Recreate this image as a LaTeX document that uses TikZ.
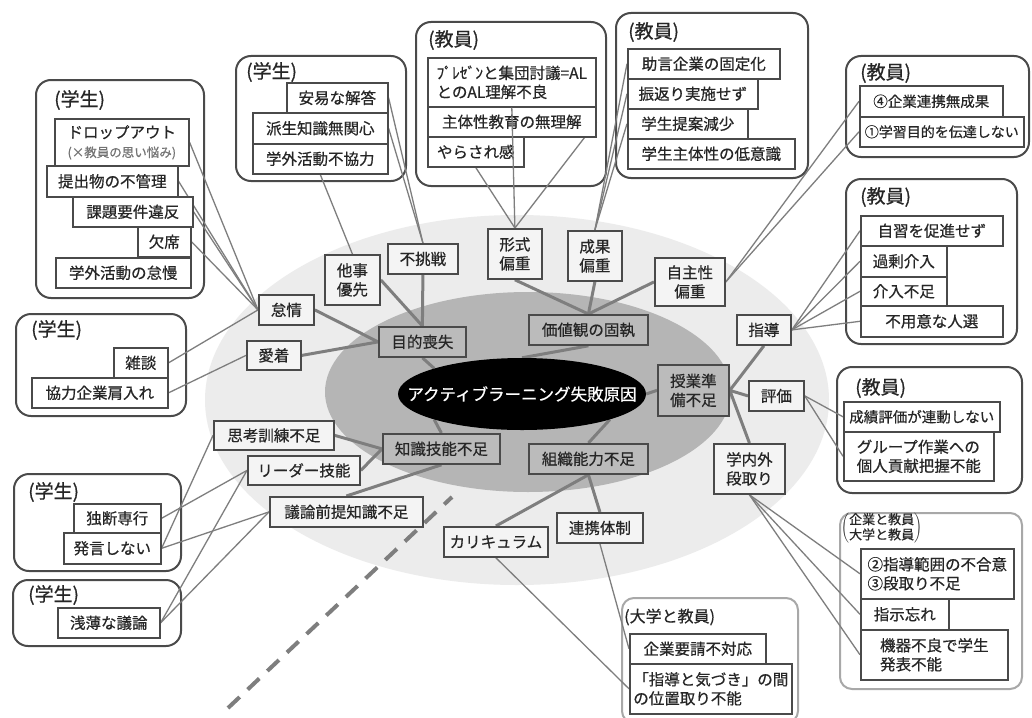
\documentclass[tikz,border=0pt]{standalone}
\usepackage{fontspec}
\setmainfont{Noto Sans CJK JP}[FakeBold=0.6]
\usetikzlibrary{shapes.geometric}
\definecolor{bgl}{HTML}{ECECEC}
\definecolor{bgd}{HTML}{B5B5B5}
\definecolor{bord}{HTML}{4A4A4A}
\definecolor{lin}{HTML}{7E7E7E}
\definecolor{corefill}{HTML}{BBBBBB}
\definecolor{subfill}{HTML}{F4F4F4}
\definecolor{lgrpc}{HTML}{A8A8A8}
\definecolor{txt}{HTML}{262626}
\pgfdeclarelayer{bg}\pgfdeclarelayer{grp}\pgfdeclarelayer{ln}
\pgfsetlayers{bg,grp,ln,main}
\newcommand\mybox[7]{\node[#1, anchor=north west, minimum width=#5pt, minimum height=#6pt] (#2) at (#3,#4) {#7};}
\tikzset{
 every node/.style={font=\fontsize{15.5}{19}\selectfont, text=txt},
 corebox/.style={draw=bord, line width=1.8pt, fill=corefill, align=center, inner sep=2pt},
 subbox/.style={draw=bord, line width=1.8pt, fill=subfill, align=center, inner sep=2pt},
 itembox/.style={draw=bord, line width=1.6pt, fill=white, align=center, inner sep=2pt},
 itemleft/.style={itembox, align=left},
 grpbox/.style={draw=bord, line width=2pt, rounded corners=15pt, fill=white},
 lgrpbox/.style={draw=lgrpc, line width=2pt, rounded corners=12pt, fill=white},
 ttl/.style={font=\fontsize{19}{22}\selectfont, inner sep=0pt, anchor=west},
 thickln/.style={draw=lin, line width=3pt},
 thinln/.style={draw=lin, line width=1.3pt},
 dashline/.style={draw=lin, line width=4pt, dash pattern=on 16pt off 11pt},
}
\begin{document}
\begin{tikzpicture}[x=1pt,y=-1pt]
\useasboundingbox (0,0) rectangle (1032,717);
\begin{pgfonlayer}{bg}
\fill[white] (0,0) rectangle (1032,717);
\fill[bgl] (517,400) ellipse [x radius=312pt, y radius=185pt];
\fill[bgd] (528,392) ellipse [x radius=203pt, y radius=100pt];
\end{pgfonlayer}

% groups
\begin{pgfonlayer}{grp}
\mybox{grpbox}{g1}{35}{79}{168}{218}{}
\mybox{grpbox}{g2}{235}{55}{170}{125}{}
\mybox{grpbox}{g3}{415}{21}{190}{164}{}
\mybox{grpbox}{g4}{615}{12}{192}{165}{}
\mybox{grpbox}{g5}{845}{55}{183}{101}{}
\mybox{grpbox}{g6}{845}{178}{171}{165}{}
\mybox{grpbox}{g7}{836}{366}{185}{126}{}
\mybox{lgrpbox}{g8}{839}{512}{182}{176}{}
\mybox{lgrpbox}{g9}{621}{597}{176}{125}{}
\mybox{grpbox}{g10}{15}{313}{170}{102}{}
\mybox{grpbox}{g11}{13}{473}{167}{97}{}
\mybox{grpbox}{g12}{12}{579}{168}{66}{}
\end{pgfonlayer}

% titles
\node[ttl] (t1) at (54,100) {(学生)};
\node[ttl] (t2) at (246,72) {(学生)};
\node[ttl] (t3) at (428,40) {(教員)};
\node[ttl] (t4) at (628,32) {(教員)};
\node[ttl] (t5) at (860,73) {(教員)};
\node[ttl] (t6) at (860,197) {(教員)};
\node[ttl] (t7) at (855,388) {(教員)};
\node[ttl] (t10) at (31,330) {(学生)};
\node[ttl] (t11) at (28,492) {(学生)};
\node[ttl] (t12) at (28,595) {(学生)};
\node[ttl, font=\fontsize{16}{19}\selectfont] (t9) at (624,617) {(大学と教員)};
\node[anchor=north west, inner sep=0pt] (t8) at (841,513)
 {\(\left(\vcenter{\hbox{\fontsize{13}{14}\selectfont\begin{tabular}{@{}l@{}}企業と教員\\大学と教員\end{tabular}}}\right)\)};

% center
\node[ellipse, fill=black, minimum width=248pt, minimum height=72pt, inner sep=0pt] (core) at (522,394) {};
\node[text=white, font=\fontsize{16.5}{19}\selectfont, inner sep=0pt] (coretext) at (core.center) {アクティブラーニング失敗原因};

% main nodes
\mybox{corebox}{mokuteki}{378}{326}{87}{30}{目的喪失}
\mybox{corebox}{kachi}{528}{314}{119}{30}{価値観の固執}
\mybox{corebox}{jugyo}{657}{364}{71}{51}{授業準\\備不足}
\mybox{corebox}{chishiki}{382}{433}{117}{30}{知識技能不足}
\mybox{corebox}{soshiki}{528}{443}{119}{30}{組織能力不足}

% sub nodes
\mybox{subbox}{taida}{258}{294}{55}{30}{怠情}
\mybox{subbox}{aichaku}{246}{340}{54}{29}{愛着}
\mybox{subbox}{tagoto}{324}{254}{55}{50}{他事\\優先}
\mybox{subbox}{fuchousen}{387}{243}{70}{30}{不挑戦}
\mybox{subbox}{keishiki}{487}{228}{54}{50}{形式\\偏重}
\mybox{subbox}{seika}{567}{230}{54}{50}{成果\\偏重}
\mybox{subbox}{jishu}{654}{257}{70}{48}{自主性\\偏重}
\mybox{subbox}{shidou}{736}{314}{54}{30}{指導}
\mybox{subbox}{hyouka}{748}{380}{55}{30}{評価}
\mybox{subbox}{gakunai}{713}{443}{71}{50}{学内外\\段取り}
\mybox{subbox}{shikou}{213}{420}{120}{29}{思考訓練不足}
\mybox{subbox}{leader}{247}{455}{112}{29}{リーダー技能}
\mybox{subbox}{giron}{269}{496}{153}{30}{議論前提知識不足}
\mybox{subbox}{curri}{443}{526}{104}{30}{カリキュラム}
\mybox{subbox}{renkei}{556}{512}{86}{30}{連携体制}

% G1 items
\mybox{itembox}{drop}{54}{118}{134}{47}{ドロップアウト\\{\fontsize{12.5}{15}\selectfont\color{black!55}(×教員の思い悩み)}}
\mybox{itembox}{teishutsu}{46}{165}{131}{31}{提出物の不管理}
\mybox{itembox}{kadai}{72}{196}{120}{30}{課題要件違反}
\mybox{itembox}{kesseki}{137}{226}{53}{30}{欠席}
\mybox{itembox}{gakugai}{55}{257}{135}{30}{学外活動の怠慢}
% G2
\mybox{itembox}{anni}{286}{82}{101}{30}{安易な解答}
\mybox{itembox}{hasei}{252}{112}{135}{31}{派生知識無関心}
\mybox{itembox}{gakugaib}{252}{143}{135}{30}{学外活動不協力}
% G3
\mybox{itemleft}{pres}{427}{57}{168}{49}{ﾌﾟﾚｾﾞﾝと集団討議=AL\\とのAL理解不良}
\mybox{itembox}{shutai}{427}{106}{168}{30}{主体性教育の無理解}
\mybox{itembox}{yarasare}{427}{136}{96}{30}{やらされ感}
% G4
\mybox{itembox}{jogen}{627}{48}{152}{30}{助言企業の固定化}
\mybox{itembox}{furikaeri}{627}{78}{130}{30}{振返り実施せず}
\mybox{itembox}{teian}{627}{108}{120}{30}{学生提案減少}
\mybox{itembox}{teiishiki}{627}{138}{167}{30}{学生主体性の低意識}
% G5
\mybox{itembox}{kigyo}{859}{85}{143}{31}{\fontsize{14.5}{17}\selectfont ④企業連携無成果}
\mybox{itembox}{gakushu}{859}{116}{164}{30}{\fontsize{14}{17}\selectfont ①学習目的を伝達しない}
% G6
\mybox{itembox}{jishub}{860}{215}{142}{30}{自習を促進せず}
\mybox{itembox}{kajou}{860}{245}{86}{31}{過剰介入}
\mybox{itembox}{kainyu}{860}{276}{86}{29}{介入不足}
\mybox{itembox}{fuyoui}{860}{305}{142}{31}{不用意な人選}
% G7
\mybox{itembox}{seiseki}{843}{401}{156}{30}{\fontsize{14.5}{17}\selectfont 成績評価が連動しない}
\mybox{itemleft}{groupw}{843}{431}{150}{49}{グループ作業への\\個人貢献把握不能}
% G8
\mybox{itemleft}{shidouhani}{860}{548}{153}{50}{②指導範囲の不合意\\③段取り不足}
\mybox{itembox}{shiji}{860}{598}{88}{31}{指示忘れ}
\mybox{itemleft}{kiki}{860}{629}{147}{50}{機器不良で学生\\発表不能}
% G9
\mybox{itembox}{kigyoyousei}{629}{633}{136}{30}{企業要請不対応}
\mybox{itemleft}{ichidori}{629}{663}{162}{50}{「指導と気づき」の間\\の位置取り不能}
% G10
\mybox{itembox}{zatsudan}{113}{347}{54}{30}{雑談}
\mybox{itembox}{kyoryoku}{31}{377}{136}{30}{協力企業肩入れ}
% G11
\mybox{itembox}{dokudan}{73}{503}{87}{29}{独断専行}
\mybox{itembox}{hatsugen}{63}{532}{97}{31}{発言しない}
% G12
\mybox{itembox}{sempaku}{57}{607}{102}{30}{浅薄な議論}

\begin{pgfonlayer}{ln}
% thick connectors
\draw[thickln] (mokuteki.south) -- (core.north west);
\draw[thickln] (kachi.south) -- (core.north);
\draw[thickln] (jugyo.west) -- (core.east);
\draw[thickln] (chishiki.north) -- (core.south west);
\draw[thickln] (soshiki.north) -- (core.south east);
\draw[thickln] (taida.east) -- (mokuteki.west);
\draw[thickln] (aichaku.east) -- (mokuteki.west);
\draw[thickln] (tagoto.east) -- (mokuteki.north);
\draw[thickln] (fuchousen.south) -- (mokuteki.north);
\draw[thickln] (keishiki.south) -- (kachi.north);
\draw[thickln] (seika.south) -- (kachi.north);
\draw[thickln] (jishu.west) -- (kachi.north);
\draw[thickln] (shidou.south) -- (jugyo.east);
\draw[thickln] (hyouka.west) -- (jugyo.east);
\draw[thickln] (gakunai.north) -- (jugyo.east);
\draw[thickln] (shikou.east) -- (chishiki.west);
\draw[thickln] (leader.east) -- (chishiki.west);
\draw[thickln] (giron.north) -- (chishiki.south);
\draw[thickln] (curri.north) -- (soshiki.south);
\draw[thickln] (renkei.north) -- (soshiki.south);
% thin connectors
\foreach \t in {drop,teishutsu,kadai,kesseki,zatsudan} \draw[thinln] (taida.west) -- (\t.east);
\draw[thinln] (aichaku.west) -- (kyoryoku.east);
\draw[thinln] (tagoto.north) -- (gakugaib.south);
\draw[thinln] (fuchousen.north) -- (anni.east);
\draw[thinln] (fuchousen.north) -- (hasei.east);
\draw[thinln] (keishiki.north) -- (yarasare.south);
\draw[thinln] (keishiki.north) -- (shutai.east);
\foreach \t in {jogen,furikaeri,teian} \draw[thinln] (seika.north) -- (\t.west);
\draw[thinln] (jishu.east) -- (kigyo.west);
\draw[thinln] (jishu.east) -- (gakushu.west);
\foreach \t in {jishub,kajou,kainyu,fuyoui} \draw[thinln] (shidou.east) -- (\t.west);
\draw[thinln] (hyouka.east) -- (seiseki.west);
\draw[thinln] (hyouka.east) -- (groupw.west);
\foreach \t in {shidouhani,shiji,kiki} \draw[thinln] (gakunai.south) -- (\t.west);
\draw[thinln] (renkei.south) -- (kigyoyousei.west);
\draw[thinln] (curri.south) -- (ichidori.west);
\draw[thinln] (shikou.west) -- (hatsugen.east);
\draw[thinln] (leader.west) -- (dokudan.east);
\draw[thinln] (leader.west) -- (sempaku.east);
\draw[thinln] (giron.west) -- (hatsugen.east);
\draw[thinln] (giron.west) -- (sempaku.east);
% dashed line
\coordinate (d1) at (228,708);
\coordinate (d2) at (452,497);
\draw[dashline] (d1) -- (d2);
\end{pgfonlayer}
\draw[thinln] (keishiki.north) -- (pres.south);
\end{tikzpicture}
\end{document}
